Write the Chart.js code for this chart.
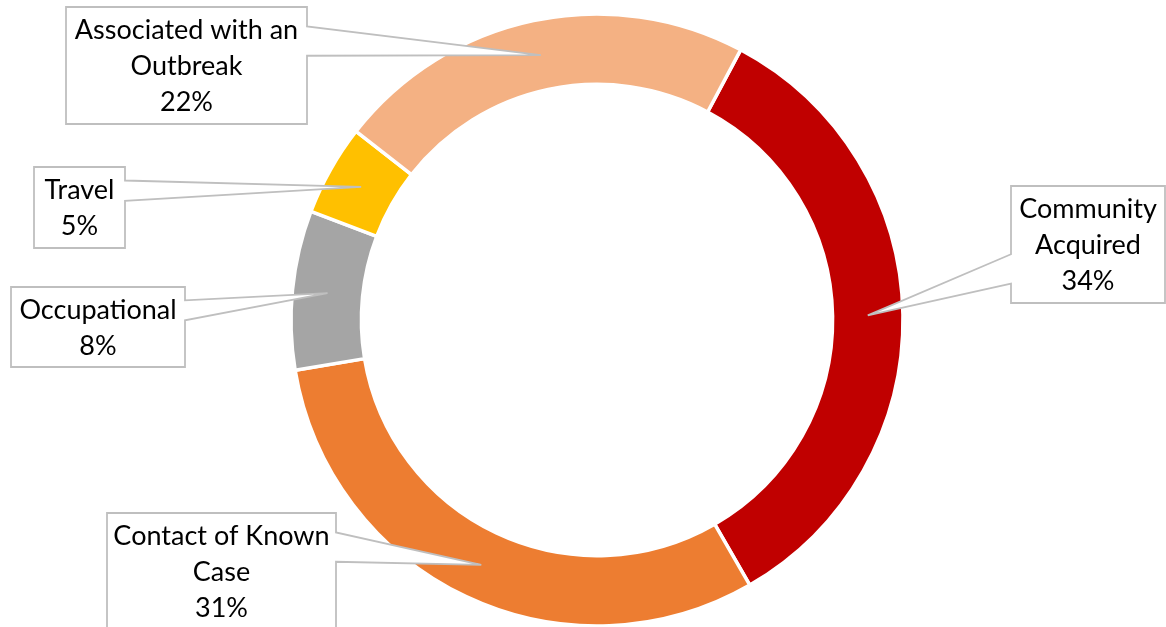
<!DOCTYPE html>
<html><head><meta charset="utf-8">
<script src="https://cdn.jsdelivr.net/npm/chart.js@4/dist/chart.umd.min.js"></script>
<style>html,body{margin:0;padding:0;background:#fff;} #wrap{width:1166px;height:627px;position:relative;}</style>
</head><body><div id="wrap"><canvas id="c"></canvas></div>
<script>
const categories = ['Community Acquired','Contact of Known Case','Occupational','Travel','Associated with an Outbreak'];
const labelLines = [['Community','Acquired'],['Contact of Known','Case'],['Occupational'],['Travel'],['Associated with an','Outbreak']];
const shares = [33.9, 30.7, 8.4, 4.8, 22.2];
const colors = ['#C00000','#ED7D31','#A5A5A5','#FFC000','#F4B183'];
// callout box layout [x, y, w, h] in px
const calloutBoxes = [[1011,186,154,117],[107,513,229,117],[11,287,174,80],[34,167,91,81],[66,7,241,117]];

const FONT_SIZE = 27, LINE_H = 35.8, PAD_T = 4.8;

function wedgePath(ctx, x, y, w, h, px, py){
  const hc = x + w/2, vc = y + h/2;
  const dx = px - hc, dy = py - vc;
  const dq = dx*h/w;
  ctx.beginPath();
  ctx.moveTo(x,y);
  if (Math.abs(dy) - Math.abs(dq) > 0) {
    const x1 = x + w*(dx>0?7:2)/12, x2 = x + w*(dx>0?10:5)/12;
    if (dy<0) {
      ctx.lineTo(x1,y); ctx.lineTo(px,py); ctx.lineTo(x2,y); ctx.lineTo(x+w,y); ctx.lineTo(x+w,y+h); ctx.lineTo(x,y+h);
    } else {
      ctx.lineTo(x+w,y); ctx.lineTo(x+w,y+h); ctx.lineTo(x2,y+h); ctx.lineTo(px,py); ctx.lineTo(x1,y+h); ctx.lineTo(x,y+h);
    }
  } else {
    const y1 = y + h*(dy>0?7:2)/12, y2 = y + h*(dy>0?10:5)/12;
    if (dx>0) {
      ctx.lineTo(x+w,y); ctx.lineTo(x+w,y1); ctx.lineTo(px,py); ctx.lineTo(x+w,y2); ctx.lineTo(x+w,y+h); ctx.lineTo(x,y+h);
    } else {
      ctx.lineTo(x+w,y); ctx.lineTo(x+w,y+h); ctx.lineTo(x,y+h); ctx.lineTo(x,y2); ctx.lineTo(px,py); ctx.lineTo(x,y1);
    }
  }
  ctx.closePath();
}

const calloutPlugin = {
  id:'callouts',
  afterDatasetsDraw(chart){
    const ctx = chart.ctx;
    const meta = chart.getDatasetMeta(0);
    const total = shares.reduce((a,b)=>a+b,0);
    meta.data.forEach((arc,i)=>{
      const p = arc.getCenterPoint(true);
      const [x,y,w,h] = calloutBoxes[i];
      ctx.save();
      wedgePath(ctx,x,y,w,h,p.x,p.y);
      ctx.fillStyle = '#ffffff';
      ctx.fill();
      ctx.lineWidth = 1.8;
      ctx.strokeStyle = '#BFBFBF';
      ctx.lineJoin = 'miter';
      ctx.stroke();
      const lines = labelLines[i].concat([Math.round(shares[i]/total*100) + '%']);
      ctx.fillStyle = '#000000';
      ctx.font = FONT_SIZE + 'px Lato';
      ctx.textAlign = 'center';
      ctx.textBaseline = 'middle';
      lines.forEach((t,k)=>{
        ctx.fillText(t, x + w/2, y + PAD_T + LINE_H*(k+0.5) + 1);
      });
      ctx.restore();
    });
  }
};

new Chart(document.getElementById('c'), {
  type:'doughnut',
  data:{labels:categories, datasets:[{data:shares, backgroundColor:colors, borderColor:'#ffffff', borderWidth:3.5, hoverOffset:0}]},
  options:{
    responsive:true, maintainAspectRatio:false, animation:false, devicePixelRatio:1,
    rotation:28, cutout:'77%', radius:306,
    layout:{padding:{left:28,top:13,right:0,bottom:0}},
    plugins:{legend:{display:false}, tooltip:{enabled:false}},
    events:[]
  },
  plugins:[calloutPlugin]
});
</script>
</body></html>
